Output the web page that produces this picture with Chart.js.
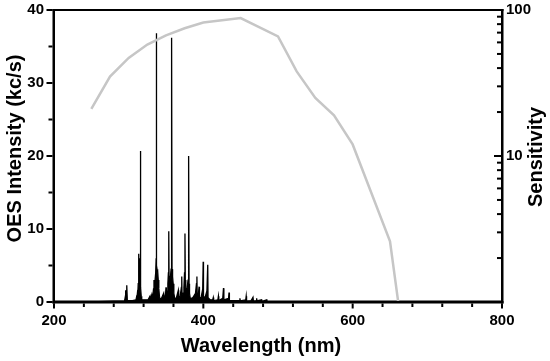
<!DOCTYPE html>
<html>
<head>
<meta charset="utf-8">
<script src="https://cdn.jsdelivr.net/npm/chart.js@4.4.0/dist/chart.umd.min.js"></script>
<style>
  body { margin: 0; background: #fff; }
  canvas { display: block; }
</style>
</head>
<body>
<canvas id="chart" width="550" height="361"></canvas>
<script>
// OES spectrum, [wavelength nm, intensity kc/s]
const spectrum = [
  [200, 0.1], [230, 0.1], [260, 0.1], [280, 0.15], [294.5, 0.15],
  [295.3, 0.6], [295.7, 0.2], [296.2, 1.6], [296.6, 0.3], [297.2, 0.8], [297.7, 2.3], [298.2, 0.2],
  [305, 0.2], [309.8, 0.3], [310.4, 0.6], [310.9, 0.4], [311.7, 1.2], [312.2, 1],
  [312.8, 2.5], [313.3, 3], [313.6, 6.6], [314, 3.5], [314.6, 4.5], [315.2, 6], [315.6, 9],
  [315.9, 20.7], [316.3, 2], [316.8, 0.8], [317.5, 0.3],
  [320, 0.3], [326, 0.3], [328.5, 0.8], [329, 0.3], [330.9, 1], [331.5, 0.5],
  [332.5, 1], [333.3, 1.8], [333.9, 3], [334.4, 2], [335.2, 2.8], [336.2, 4], [336.8, 6],
  [337.1, 36.8], [337.4, 5], [338, 4.5], [338.8, 4.3], [339.6, 3], [340.4, 1.8], [341.2, 0.8],
  [342, 0.4], [344, 0.5], [346.9, 1.2], [347.4, 0.5],
  [348.5, 0.6], [349.5, 1.2], [350, 2], [350.5, 1], [351.5, 1.5], [352.5, 2.5], [353.2, 4],
  [353.7, 9.7], [354.1, 3.5], [355, 3], [356, 3.5], [356.8, 4.5], [357.3, 8], [357.7, 36.2],
  [358.1, 4.5], [358.8, 3.5], [359.6, 2.5], [360.5, 1.2], [361.5, 0.6], [362.5, 0.4],
  [364, 0.6], [366.5, 1.6], [367, 0.5], [369, 0.8], [370.6, 2], [371.1, 3.5], [371.5, 1],
  [373, 1.2], [374, 2], [374.8, 4], [375.4, 9.4], [375.8, 3], [376.5, 2], [377.3, 1.5],
  [378.5, 2], [379.5, 3], [380.1, 6], [380.5, 20], [380.9, 2.5], [381.5, 1.2], [382.5, 0.5],
  [384, 0.5], [386, 0.6], [389.5, 1.2], [390.8, 2.5], [391.4, 3.5], [391.8, 0.8],
  [393.5, 1.2], [394.3, 2.1], [394.8, 0.6], [397, 0.6], [399.2, 1.8], [399.8, 5.5], [400.2, 0.8],
  [402, 0.5], [404.8, 1.5], [405.9, 5.1], [406.3, 0.6], [409, 0.3], [412.5, 0.3], [413.3, 0.6],
  [413.8, 0.2], [419.5, 0.3], [420.2, 0.8], [420.7, 0.2], [426, 0.5], [427, 1.9], [427.5, 0.3],
  [433.8, 0.5], [434.4, 1.3], [434.9, 0.2], [440, 0.2], [448.5, 0.2], [449, 0.5], [449.5, 0.15],
  [456.8, 0.3], [457.4, 0.8], [457.9, 0.15], [464, 0.2], [466.5, 0.65], [467, 0.15],
  [470.8, 0.2], [471.4, 0.5], [471.9, 0.15], [478, 0.3], [478.5, 0.1], [485, 0.3], [485.5, 0.1],
  [500, 0.1], [550, 0.1], [600, 0.1], [650, 0.1], [700, 0.1], [750, 0.1], [800, 0.1]
];

// detector sensitivity curve (right log axis)
const sensWl = [250, 275, 300, 325, 350, 375, 400, 450, 500, 525, 550, 575, 600, 650, 661];
const sensVal = [21, 35, 47, 58, 67, 75, 82, 88, 66, 38, 25, 19, 12, 2.6, 1];

const xTicks = [200, 400, 600, 800];
const yTicks = [0, 10, 20, 30, 40];
const y2Ticks = [10, 100];

const FONT = 'Liberation Sans, Arial, sans-serif';
const TITLE_FONT = 'bold 20px ' + FONT;

// box, tick marks (left/bottom outward, right inward) and the axis titles
const frameTicks = {
  id: 'frameTicks',
  afterDraw(chart) {
    const ctx = chart.ctx;
    const a = chart.chartArea;
    const sx = chart.scales.x, sy = chart.scales.y, s2 = chart.scales.y2;
    const w = a.right - a.left, h = a.bottom - a.top;
    ctx.save();
    ctx.fillStyle = '#000';
    // frame, about 2.5px thick
    ctx.fillRect(a.left - 1.5, a.top - 1, w + 3, 2);
    ctx.fillRect(a.left - 1.5, a.bottom - 1, w + 3, 2.5);
    ctx.fillRect(a.left - 1.5, a.top - 1, 2.5, h + 2.5);
    ctx.fillRect(a.right - 1, a.top - 1, 2.5, h + 2.5);
    // left ticks, outward, minor every 5
    for (let v = 0; v <= 40; v += 5) {
      const y = sy.getPixelForValue(v);
      const len = v % 10 === 0 ? 6 : 4;
      ctx.fillRect(a.left - 1.5 - len, y - 1, len, 2);
    }
    // bottom ticks, outward, minor every 40
    for (let v = 200; v <= 800; v += 40) {
      const x = sx.getPixelForValue(v);
      const len = v % 200 === 0 ? 5 : 3.5;
      ctx.fillRect(x - 1, a.bottom + 1.5, 2, len);
    }
    // right log ticks, inward
    for (const dec of [1, 10]) {
      for (let m = 1; m <= 10; m++) {
        const y = s2.getPixelForValue(dec * m);
        const len = (m === 1 || m === 10) ? 7 : 4;
        ctx.fillRect(a.right - 1 - len, y - 1, len, 2);
      }
    }

    // axis titles
    ctx.font = TITLE_FONT;
    ctx.textAlign = 'center';
    ctx.textBaseline = 'alphabetic';
    ctx.fillText('Wavelength (nm)', 261, 352);

    ctx.save();
    ctx.translate(20.5, 148.5);
    ctx.rotate(-Math.PI / 2);
    ctx.fillText('OES Intensity (kc/s)', 0, 0);
    ctx.restore();

    ctx.save();
    ctx.translate(541.5, 157);
    ctx.rotate(-Math.PI / 2);
    ctx.fillText('Sensitivity', 0, 0);
    ctx.restore();

    ctx.restore();
  }
};

function noPad(s) {
  s.paddingTop = 0;
  s.paddingBottom = 0;
  s.paddingLeft = 0;
  s.paddingRight = 0;
}

new Chart(document.getElementById('chart'), {
  type: 'line',
  data: {
    datasets: [
      {
        label: 'Sensitivity',
        data: sensWl.map((w, i) => ({ x: w, y: sensVal[i] })),
        yAxisID: 'y2',
        borderColor: 'rgb(198,198,198)',
        borderWidth: 2.5,
        pointRadius: 0,
        tension: 0,
        fill: false
      },
      {
        label: 'OES',
        data: spectrum.map(p => ({ x: p[0], y: p[1] })),
        yAxisID: 'y',
        borderColor: '#000',
        backgroundColor: '#000',
        borderWidth: 1.3,
        pointRadius: 0,
        tension: 0,
        fill: 'origin'
      }
    ]
  },
  options: {
    responsive: false,
    animation: false,
    layout: { padding: { top: 10, left: 0, right: 0, bottom: 0 } },
    plugins: { legend: { display: false }, tooltip: { enabled: false } },
    scales: {
      x: {
        type: 'linear',
        min: 200,
        max: 800,
        afterFit: s => { s.height = 59; noPad(s); },
        afterBuildTicks: s => { s.ticks = xTicks.map(v => ({ value: v })); },
        grid: { display: false, drawTicks: false },
        border: { display: false },
        ticks: { color: '#000', padding: 10, maxRotation: 0, font: { family: FONT, size: 15, weight: 'bold' } }
      },
      y: {
        position: 'left',
        min: 0,
        max: 40,
        afterFit: s => { s.width = 54; noPad(s); },
        afterBuildTicks: s => { s.ticks = yTicks.map(v => ({ value: v })); },
        grid: { display: false, drawTicks: false },
        border: { display: false },
        ticks: { color: '#000', padding: 10, font: { family: FONT, size: 15, weight: 'bold' } }
      },
      y2: {
        type: 'logarithmic',
        position: 'right',
        min: 1,
        max: 100,
        afterFit: s => { s.width = 48; noPad(s); },
        afterBuildTicks: s => { s.ticks = y2Ticks.map(v => ({ value: v })); },
        grid: { display: false, drawTicks: false },
        border: { display: false },
        ticks: { color: '#000', padding: 4, callback: v => String(v), font: { family: FONT, size: 15, weight: 'bold' } }
      }
    }
  },
  plugins: [frameTicks]
});
</script>
</body>
</html>
